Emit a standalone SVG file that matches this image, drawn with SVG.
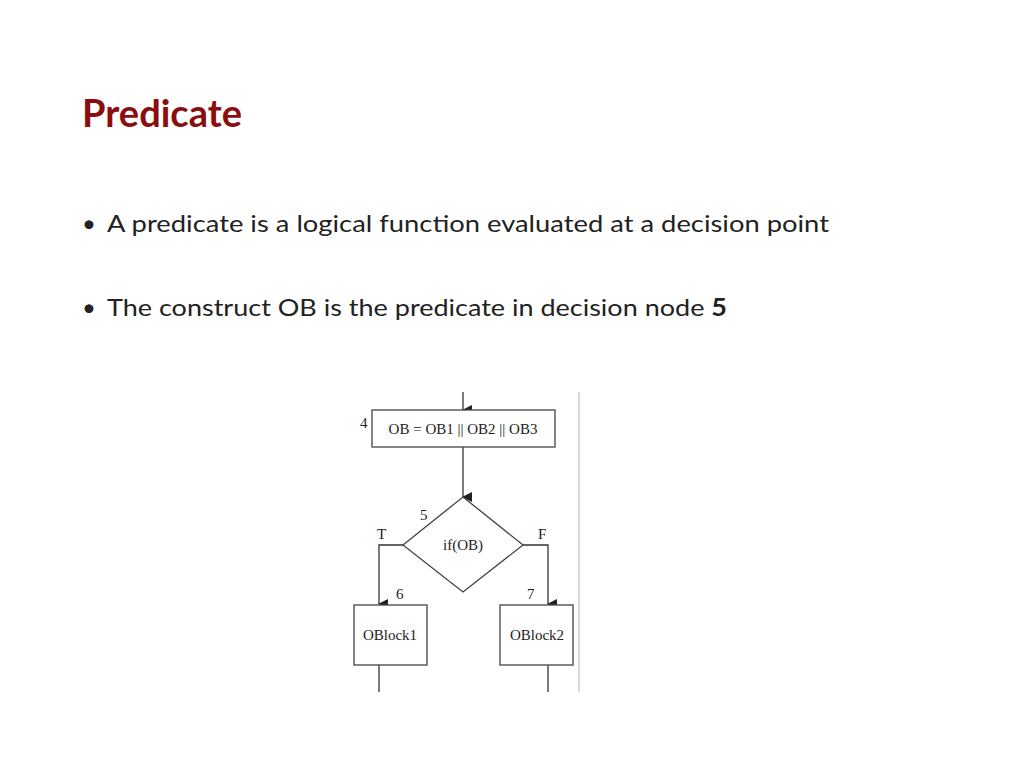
<svg xmlns="http://www.w3.org/2000/svg" width="1024" height="768" viewBox="0 0 1024 768">
<style>
.t{font-family:Lato,"Open Sans",sans-serif;font-size:24px;fill:#222}
.s{font-family:"Liberation Serif",serif;font-size:15px;fill:#222}
.b{fill:#fff;stroke:#444;stroke-width:1.3}
.c{fill:none;stroke:#333;stroke-width:1.3}
</style>
<defs><marker id="a" markerWidth="10" markerHeight="10" refX="5" refY="9" orient="auto" markerUnits="userSpaceOnUse" viewBox="0 0 10 10"><path d="M0,0 L10,0 L5,10 Z" fill="#222" transform="rotate(-90 5 5) rotate(90 5 5)"/></marker></defs>
<rect width="1024" height="768" fill="#fff"/>
<text x="82" y="127" font-family="Lato,'Open Sans',sans-serif" font-size="38" font-weight="bold" fill="#8B0E0E">Predicate</text>
<text class="t" x="82" y="232">•</text>
<text class="t" x="107" y="232" textLength="722" lengthAdjust="spacingAndGlyphs">A predicate is a logical function evaluated at a decision point</text>
<text class="t" x="82" y="316">•</text>
<text class="t" x="107" y="316" textLength="620" lengthAdjust="spacingAndGlyphs">The construct OB is the predicate in decision node <tspan font-weight="bold">5</tspan></text>
<line x1="579" y1="392" x2="579" y2="692" stroke="#ccc" stroke-width="1.5"/>
<g id="connectors">
<line class="c" x1="463" y1="392" x2="463" y2="410" marker-end="url(#a)"/>
<line class="c" x1="463" y1="447" x2="463" y2="497" marker-end="url(#a)"/>
<polyline class="c" points="403,545 379,545 379,604" marker-end="url(#a)"/>
<polyline class="c" points="523,545 548,545 548,604" marker-end="url(#a)"/>
<line class="c" x1="379" y1="665" x2="379" y2="692"/>
<line class="c" x1="548" y1="665" x2="548" y2="692"/>
</g>
<g id="n4"><rect class="b" x="372" y="410" width="183" height="37"/><text class="s" x="463" y="434" text-anchor="middle">OB = OB1 || OB2 || OB3</text><text class="s" x="360" y="428">4</text></g>
<g id="n5"><polygon class="b" points="463,497 523,545 463,592 403,545"/><text class="s" x="463" y="550" text-anchor="middle">if(OB)</text><text class="s" x="420" y="520">5</text><text class="s" x="377" y="539">T</text><text class="s" x="538" y="539">F</text></g>
<g id="n6"><rect class="b" x="354" y="605" width="73" height="60"/><text class="s" x="390" y="640" text-anchor="middle">OBlock1</text><text class="s" x="396" y="599">6</text></g>
<g id="n7"><rect class="b" x="500" y="605" width="73" height="60"/><text class="s" x="537" y="640" text-anchor="middle">OBlock2</text><text class="s" x="527" y="599">7</text></g>
</svg>
